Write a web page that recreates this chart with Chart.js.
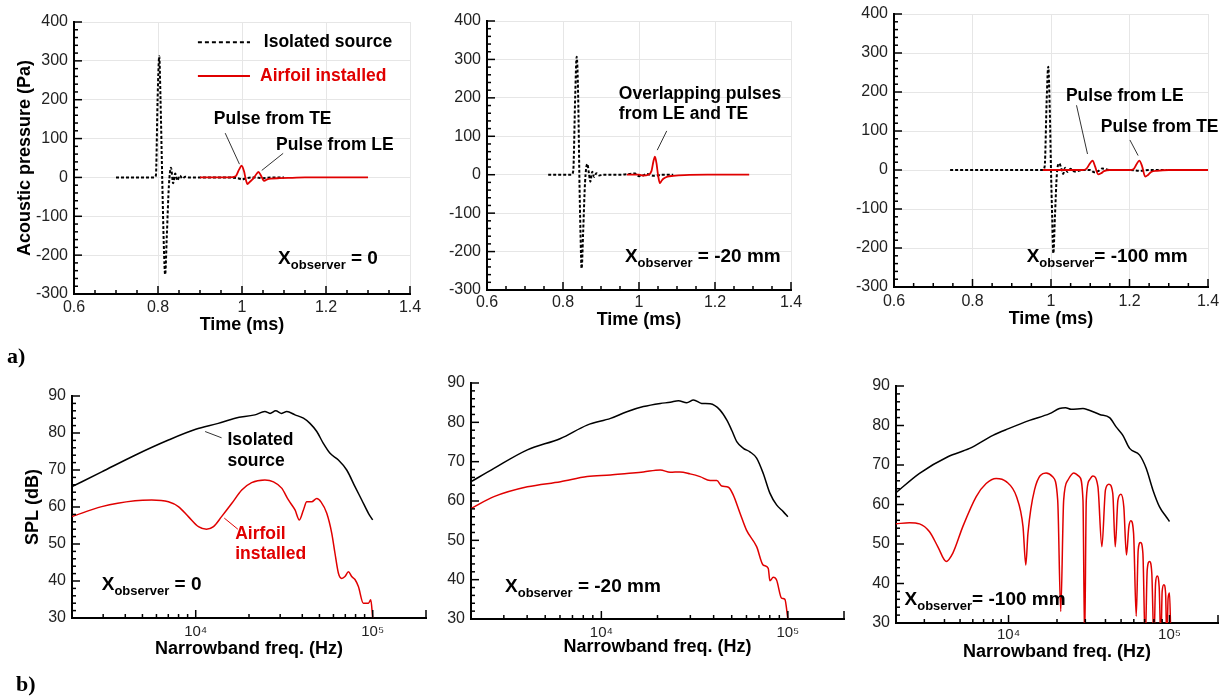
<!DOCTYPE html>
<html>
<head>
<meta charset="utf-8">
<script src="https://cdn.jsdelivr.net/npm/chart.js@4"></script>
<style>
  body { margin: 0; background: #fff; width: 1225px; height: 696px; position: relative; overflow: hidden; }
  .panel { position: absolute; }
  .panel canvas { display: block; }
  .tag { position: absolute; font: bold 22px "Liberation Serif", "Times New Roman", serif; color: #000; }
</style>
</head>
<body>
<div class="panel" style="left:0;top:0"><canvas id="p1" width="425" height="340"></canvas></div>
<div class="panel" style="left:415px;top:0"><canvas id="p2" width="405" height="340"></canvas></div>
<div class="panel" style="left:825px;top:0"><canvas id="p3" width="400" height="340"></canvas></div>
<div class="panel" style="left:0;top:350px"><canvas id="p4" width="440" height="312"></canvas></div>
<div class="panel" style="left:440px;top:350px"><canvas id="p5" width="420" height="312"></canvas></div>
<div class="panel" style="left:850px;top:350px"><canvas id="p6" width="375" height="316"></canvas></div>
<div class="tag" style="left:7px;top:343px">a)</div>
<div class="tag" style="left:16px;top:671px">b)</div>
<script>
// ---- pressure time traces (time in ms, pressure in Pa) ----
// X_observer = 0
const iso0Time = [0.70, 0.79, 0.795, 0.799, 0.803, 0.806, 0.810, 0.814, 0.817, 0.821, 0.826, 0.831, 0.836, 0.841, 0.846, 0.852, 0.858, 0.865, 0.875, 0.95, 0.99, 1.0, 1.01, 1.03, 1.05, 1.07, 1.10];
const iso0P    = [0, 0, 5, 200, 312, 200, 0, -180, -250, -150, -20, 25, -15, 10, -8, 5, -3, 2, 0, 0, -2, -5, -2, 0, -2, 0, 0];
const inst0Time = [0.90, 0.97, 0.985, 0.993, 0.999, 1.005, 1.009, 1.013, 1.018, 1.025, 1.032, 1.039, 1.045, 1.050, 1.053, 1.060, 1.070, 1.090, 1.120, 1.150, 1.200, 1.250, 1.300];
const inst0P    = [0, 0, 3, 20, 30, 15, -5, -17, -12, -5, 5, 14, 5, -6, -9, -5, -3, -2, -1, 0, 0, 0, 0];

// X_observer = -20 mm
const iso20Time = [0.761, 0.822, 0.827, 0.832, 0.836, 0.840, 0.843, 0.846, 0.849, 0.853, 0.858, 0.864, 0.868, 0.872, 0.877, 0.882, 0.888, 0.895, 0.905, 0.95, 0.99, 1.00, 1.01, 1.02, 1.04, 1.06, 1.09];
const iso20P    = [0, 0, 10, 200, 307, 200, 0, -150, -244, -150, -20, 28, 5, -18, 8, -6, 4, -2, 0, 0, 3, -4, -2, 2, -3, 0, 0];
const inst20Time = [0.968, 1.00, 1.01, 1.025, 1.033, 1.038, 1.042, 1.046, 1.050, 1.055, 1.060, 1.065, 1.075, 1.09, 1.12, 1.18, 1.29];
const inst20P    = [0, 0, -2, 0, 10, 35, 47, 30, 0, -22, -15, -10, -5, -3, -1, 0, 0];

// X_observer = -100 mm
const iso100Time = [0.743, 0.979, 0.984, 0.989, 0.993, 0.997, 1.000, 1.003, 1.006, 1.010, 1.015, 1.021, 1.026, 1.031, 1.036, 1.042, 1.05, 1.06, 1.08, 1.10, 1.11, 1.12, 1.13, 1.15, 1.20, 1.23, 1.25, 1.295];
const iso100P    = [0, 0, 10, 180, 265, 150, 0, -120, -214, -120, -10, 17, 5, -10, 6, -5, 3, -4, 0, 0, -6, -3, 4, 0, 0, -2, 0, 0];
const inst100Time = [0.979, 1.05, 1.08, 1.09, 1.10, 1.106, 1.112, 1.12, 1.128, 1.135, 1.15, 1.20, 1.21, 1.218, 1.225, 1.232, 1.24, 1.248, 1.255, 1.27, 1.30, 1.35, 1.40];
const inst100P    = [0, 0, 0, 3, 18, 24, 10, -11, -8, -3, 0, 0, 2, 15, 24, 10, -17, -12, -5, -2, 0, 0, 0];

// ---- narrowband spectra (Hz, dB) ----
const isoSpl0Freq = [2000, 2944, 4540, 7015, 10000, 13400, 16700, 21600, 24600, 26300, 28300, 30600, 32700, 36400, 40600, 44200, 48300, 52600, 57400, 64000, 71300, 79400, 86700, 94600, 100000];
const isoSpl0     = [65.5, 69.5, 74.0, 78.1, 81.0, 82.6, 84.0, 84.9, 85.8, 85.3, 86.0, 85.3, 85.8, 84.9, 84.0, 82.6, 80.4, 77.2, 74.5, 72.7, 70.0, 65.5, 61.9, 58.3, 56.5];
const instSpl0Freq = [2000, 2944, 4540, 5640, 7015, 7980, 9090, 10360, 11500, 12600, 14000, 16000, 18200, 20700, 24600, 27500, 30600, 33400, 36400, 38500, 40600, 42400, 45200, 48300, 51000, 55000, 58700, 61200, 64000, 66800, 69700, 72900, 76100, 79400, 83000, 88500, 94600, 97500, 100000];
const instSpl0     = [57.4, 60.1, 61.7, 61.9, 61.4, 60.1, 57.4, 54.7, 54.0, 54.7, 57.4, 61.0, 64.6, 66.6, 67.3, 66.8, 65.1, 61.9, 59.2, 56.5, 59.2, 61.4, 61.4, 62.3, 61.4, 58.3, 52.9, 47.5, 42.1, 40.7, 41.2, 42.5, 41.2, 40.4, 38.5, 34.0, 34.0, 34.9, 30];

const isoSpl20Freq = [2000, 2655, 4010, 6040, 8390, 11200, 13700, 16800, 20700, 23400, 25900, 28700, 31200, 34500, 38300, 43300, 47000, 50000, 53200, 57700, 62600, 68000, 73800, 80100, 87000, 94500, 100000];
const isoSpl20     = [64.9, 68.3, 73.0, 75.9, 79.3, 81.0, 82.7, 84.0, 84.8, 85.1, 85.5, 85.0, 85.7, 84.8, 84.7, 83.1, 80.6, 78.0, 75.1, 73.4, 72.5, 70.9, 67.0, 62.0, 59.0, 57.3, 56.0];
const instSpl20Freq = [2000, 2655, 4010, 6040, 8390, 11200, 13700, 16800, 20700, 23400, 26400, 29900, 33800, 38300, 41600, 44200, 48000, 51000, 55400, 60000, 68000, 73800, 78500, 80100, 83500, 87000, 92500, 96400, 100000];
const instSpl20     = [58.1, 61.1, 63.6, 64.9, 66.2, 66.6, 67.0, 67.4, 67.9, 67.3, 67.4, 66.9, 66.2, 65.2, 65.2, 63.8, 63.5, 61.5, 56.9, 52.6, 48.4, 43.7, 42.9, 39.7, 40.6, 39.9, 35.3, 35.0, 30];

const isoSpl100Freq = [2000, 2800, 4200, 5730, 8000, 10000, 13500, 18000, 20700, 22600, 24500, 29000, 31100, 36800, 42400, 46700, 51300, 56500, 65200, 71700, 78800, 86700, 95300, 100000];
const isoSpl100     = [63.0, 67.9, 72.1, 74.2, 77.5, 79.2, 81.3, 83.0, 84.3, 84.5, 84.1, 84.3, 84.0, 82.8, 82.0, 79.6, 77.5, 74.2, 72.5, 69.1, 63.7, 59.4, 56.9, 55.7];
const instSpl100Freq = [2000, 2427, 2800, 3230, 3640, 4100, 4510, 5200, 6300, 7260, 8380, 9680, 11200, 12300, 12800, 13200, 14500, 17100, 18800, 20200, 21100, 22000, 23400, 25400, 27600, 29000, 29700, 30400, 31800, 33400, 35900, 38000, 40000, 42000, 44400, 46000, 47800, 49900, 52000, 54000, 55900, 57500, 59800, 62100, 63900, 66000, 68300, 70600, 72700, 75100, 77600, 80000, 81900, 83800, 86200, 88400, 90000, 92200, 94500, 96200, 98000, 100000, 102000];
const instSpl100     = [55.1, 55.4, 55.1, 53.1, 49.3, 45.6, 47.7, 54.4, 62.0, 65.3, 66.6, 65.8, 62.0, 54.4, 44.7, 52.7, 63.7, 68.0, 67.0, 61.1, 32.9, 61.1, 66.2, 68.0, 67.0, 61.1, 25, 61.1, 66.2, 67.2, 64.5, 49.3, 63.7, 65.1, 62.8, 49.3, 61.1, 62.6, 59.4, 47.2, 54.4, 55.9, 52.7, 31.7, 48.5, 50.4, 47.7, 25, 43.5, 45.6, 42.6, 25, 40.1, 41.9, 39.2, 25, 38.0, 39.7, 37.6, 25, 36.3, 37.6, 25];

// ---- axis ticks ----
const timeTicks = [0.6, 0.8, 1.0, 1.2, 1.4];
const paTicks = [-300, -200, -100, 0, 100, 200, 300, 400];
const splTicks = [30, 40, 50, 60, 70, 80, 90];
const freqTicks = [10000, 100000, 200000];
const freqLabels = { 10000: '10\u2074', 100000: '10\u2075' };

const FONT = '"Liberation Sans", Arial, Helvetica, sans-serif';
const RED = '#e00000';

function series(xs, ys) {
    return xs.map((v, i) => ({ x: v, y: ys[i] }));
}

function steps(a, b, step, skip) {
    const out = [];
    for (let i = 0; a + i * step <= b + 1e-9; i++) {
        const v = +(a + i * step).toFixed(6);
        if (!skip.some((m) => Math.abs(m - v) < 1e-6)) out.push(v);
    }
    return out;
}

const timeMinor = steps(0.6, 1.4, 0.05, timeTicks);
const paMinor = steps(-300, 400, 20, paTicks);
const splMinor = steps(30, 90, 2, splTicks);
const freqMinor = [];
[1000, 10000].forEach((d) => { for (let k = 2; k <= 9; k++) if (k * d >= 2000) freqMinor.push(k * d); });

// annotations for each panel, placed in data units
const decorById = {
    p1: {
        xMajor: timeTicks, xMinor: timeMinor, yMajor: paTicks, yMinor: paMinor,
        legend: [
            { text: 'Isolated source', color: '#000', dash: [4, 3], y: 348, x1: 0.895, x2: 1.019, tx: 1.052 },
            { text: 'Airfoil installed', color: RED, dash: [], y: 261, x1: 0.895, x2: 1.019, tx: 1.043 }
        ],
        notes: [
            { text: 'Pulse from TE', x: 0.933, y: 150 },
            { text: 'Pulse from LE', x: 1.081, y: 82 }
        ],
        leaders: [[0.96, 114, 0.994, 34], [1.098, 62, 1.047, 18]],
        obs: { x: 1.086, y: -222, rest: ' = 0' }
    },
    p2: {
        xMajor: timeTicks, xMinor: timeMinor, yMajor: paTicks, yMinor: paMinor,
        notes: [
            { text: 'Overlapping pulses', x: 0.947, y: 210 },
            { text: 'from LE and TE', x: 0.947, y: 157 }
        ],
        leaders: [[1.073, 114, 1.048, 64]],
        obs: { x: 0.963, y: -228, rest: ' = -20 mm' }
    },
    p3: {
        xMajor: timeTicks, xMinor: timeMinor, yMajor: paTicks, yMinor: paMinor,
        notes: [
            { text: 'Pulse from LE', x: 1.038, y: 190 },
            { text: 'Pulse from TE', x: 1.127, y: 111 }
        ],
        leaders: [[1.065, 166, 1.093, 41], [1.201, 77, 1.222, 37]],
        obs: { x: 0.938, y: -235, rest: '= -100 mm' }
    },
    p4: {
        xMajor: freqTicks, xMinor: freqMinor, yMajor: splTicks, yMinor: splMinor,
        notes: [
            { text: 'Isolated', x: 15100, y: 78.1 },
            { text: 'source', x: 15100, y: 72.5 },
            { text: 'Airfoil', x: 16700, y: 52.7, color: RED },
            { text: 'installed', x: 16700, y: 47.2, color: RED }
        ],
        leaders: [[14000, 78.7, 11300, 80.4], [17300, 54, 14500, 57, RED]],
        obs: { x: 2944, y: 37.6, rest: ' = 0' }
    },
    p5: {
        xMajor: freqTicks, xMinor: freqMinor, yMajor: splTicks, yMinor: splMinor,
        obs: { x: 3044, y: 36.8, rest: ' = -20 mm' }
    },
    p6: {
        xMajor: freqTicks, xMinor: freqMinor, yMajor: splTicks, yMinor: splMinor,
        obs: { x: 2259, y: 34.6, rest: '= -100 mm' }
    }
};

const decor = {
    id: 'decor',
    afterDatasetsDraw(chart) {
        const o = decorById[chart.canvas.id];
        const { ctx, chartArea: a } = chart;
        const xs = chart.scales.x, ys = chart.scales.y;
        const px = (v) => xs.getPixelForValue(v);
        const py = (v) => ys.getPixelForValue(v);
        ctx.save();
        // inward tick marks
        ctx.strokeStyle = '#000';
        ctx.lineWidth = 1.5;
        const tick = (x, y, dx, dy) => {
            ctx.beginPath();
            ctx.moveTo(x, y);
            ctx.lineTo(x + dx, y + dy);
            ctx.stroke();
        };
        o.xMajor.forEach((v) => tick(px(v), a.bottom, 0, -8));
        o.xMinor.forEach((v) => tick(px(v), a.bottom, 0, -4));
        o.yMajor.forEach((v) => tick(a.left, py(v), 8, 0));
        o.yMinor.forEach((v) => tick(a.left, py(v), 4, 0));

        // leader lines
        ctx.lineWidth = 1;
        (o.leaders || []).forEach((l) => {
            ctx.strokeStyle = l[4] || '#333';
            ctx.beginPath();
            ctx.moveTo(px(l[0]), py(l[1]));
            ctx.lineTo(px(l[2]), py(l[3]));
            ctx.stroke();
        });

        ctx.textAlign = 'left';
        ctx.textBaseline = 'middle';
        ctx.font = 'bold 17.5px ' + FONT;
        (o.legend || []).forEach((l) => {
            ctx.strokeStyle = l.color;
            ctx.lineWidth = 2;
            ctx.setLineDash(l.dash);
            ctx.beginPath();
            ctx.moveTo(px(l.x1), py(l.y));
            ctx.lineTo(px(l.x2), py(l.y));
            ctx.stroke();
            ctx.setLineDash([]);
            ctx.fillStyle = l.color;
            ctx.fillText(l.text, px(l.tx), py(l.y));
        });
        (o.notes || []).forEach((n) => {
            ctx.fillStyle = n.color || '#000';
            ctx.fillText(n.text, px(n.x), py(n.y));
        });

        // X_observer label
        if (o.obs) {
            const x0 = px(o.obs.x), y0 = py(o.obs.y);
            ctx.textBaseline = 'alphabetic';
            ctx.fillStyle = '#000';
            ctx.font = 'bold 19px ' + FONT;
            ctx.fillText('X', x0, y0);
            let w = ctx.measureText('X').width;
            ctx.font = 'bold 13px ' + FONT;
            ctx.fillText('observer', x0 + w, y0 + 5);
            w += ctx.measureText('observer').width;
            ctx.font = 'bold 19px ' + FONT;
            ctx.fillText(o.obs.rest, x0 + w, y0);
        }
        ctx.restore();
    }
};

function isoLine(data, dashed) {
    return {
        data, borderColor: '#000', borderWidth: dashed ? 2 : 1.5,
        borderDash: dashed ? [3, 2] : [], pointRadius: 0, fill: false,
        cubicInterpolationMode: 'monotone'
    };
}

function instLine(data, width) {
    return {
        data, borderColor: RED, borderWidth: width, pointRadius: 0, fill: false,
        cubicInterpolationMode: 'monotone'
    };
}

function makeChart(id, p) {
    const top = !p.log;
    const tickFont = { family: FONT, size: 16 };
    const titleFont = { family: FONT, size: 18, weight: 'bold' };
    new Chart(document.getElementById(id), {
        type: 'line',
        data: { datasets: p.datasets },
        options: {
            responsive: false,
            animation: false,
            devicePixelRatio: 1,
            layout: { padding: { left: 0, top: p.padTop, right: p.padRight, bottom: 0 } },
            plugins: { legend: { display: false }, tooltip: { enabled: false } },
            scales: {
                x: {
                    type: top ? 'linear' : 'logarithmic',
                    min: top ? 0.6 : 2000,
                    max: top ? 1.4 : 200000,
                    ticks: top
                        ? {
                            stepSize: 0.2, padding: p.xTickPad, color: '#222', font: tickFont, maxRotation: 0,
                            callback: (v) => String(+v.toFixed(2))
                        }
                        : {
                            autoSkip: false, maxRotation: 0, padding: p.xTickPad, color: '#222',
                            font: { family: FONT, size: 15 },
                            callback: (v) => freqLabels[v] || ''
                        },
                    grid: top ? { color: '#e6e6e6', drawTicks: false } : { display: false, drawTicks: false },
                    border: { color: '#000', width: 2 },
                    title: {
                        display: true, text: top ? 'Time (ms)' : 'Narrowband freq. (Hz)', color: '#000',
                        font: titleFont, padding: { top: 0, bottom: p.xTitlePad }
                    },
                    afterFit: (s) => { s.height = p.xh; s.paddingLeft = 0; s.paddingRight = 0; }
                },
                y: {
                    type: 'linear',
                    min: top ? -300 : 30,
                    max: top ? 400 : 90,
                    ticks: { stepSize: top ? 100 : 10, padding: 6, color: '#222', font: tickFont },
                    grid: top ? { color: '#e6e6e6', drawTicks: false } : { display: false, drawTicks: false },
                    border: { color: '#000', width: 2 },
                    title: {
                        display: !!p.yTitle, text: p.yTitle || '', color: '#000',
                        font: titleFont, padding: { top: p.yTitlePad || 0, bottom: 0 }
                    },
                    afterFit: (s) => { s.width = p.yw; s.paddingTop = 0; s.paddingBottom = 0; }
                }
            }
        },
        plugins: [decor]
    });
}

makeChart('p1', {
    yw: 74, xh: 46, padTop: 22, padRight: 15, xTickPad: 4, xTitlePad: 4,
    yTitle: 'Acoustic pressure (Pa)', yTitlePad: 14,
    datasets: [instLine(series(inst0Time, inst0P), 1.8), isoLine(series(iso0Time, iso0P), true)]
});
makeChart('p2', {
    yw: 72, xh: 50, padTop: 21, padRight: 29, xTickPad: 3, xTitlePad: 9,
    datasets: [instLine(series(inst20Time, inst20P), 1.8), isoLine(series(iso20Time, iso20P), true)]
});
makeChart('p3', {
    yw: 69, xh: 53, padTop: 14, padRight: 17, xTickPad: 5, xTitlePad: 10,
    datasets: [instLine(series(inst100Time, inst100P), 1.8), isoLine(series(iso100Time, iso100P), true)]
});
makeChart('p4', {
    log: true, yw: 72, xh: 44, padTop: 46, padRight: 14, xTickPad: 5, xTitlePad: 2,
    yTitle: 'SPL (dB)', yTitlePad: 22,
    datasets: [instLine(series(instSpl0Freq, instSpl0), 1.5), isoLine(series(isoSpl0Freq, isoSpl0), false)]
});
makeChart('p5', {
    log: true, yw: 31, xh: 43, padTop: 33, padRight: 16, xTickPad: 5, xTitlePad: 4,
    datasets: [instLine(series(instSpl20Freq, instSpl20), 1.5), isoLine(series(isoSpl20Freq, isoSpl20), false)]
});
makeChart('p6', {
    log: true, yw: 46, xh: 43, padTop: 36, padRight: 7, xTickPad: 3, xTitlePad: 3,
    datasets: [instLine(series(instSpl100Freq, instSpl100), 1.5), isoLine(series(isoSpl100Freq, isoSpl100), false)]
});
</script>
</body>
</html>
